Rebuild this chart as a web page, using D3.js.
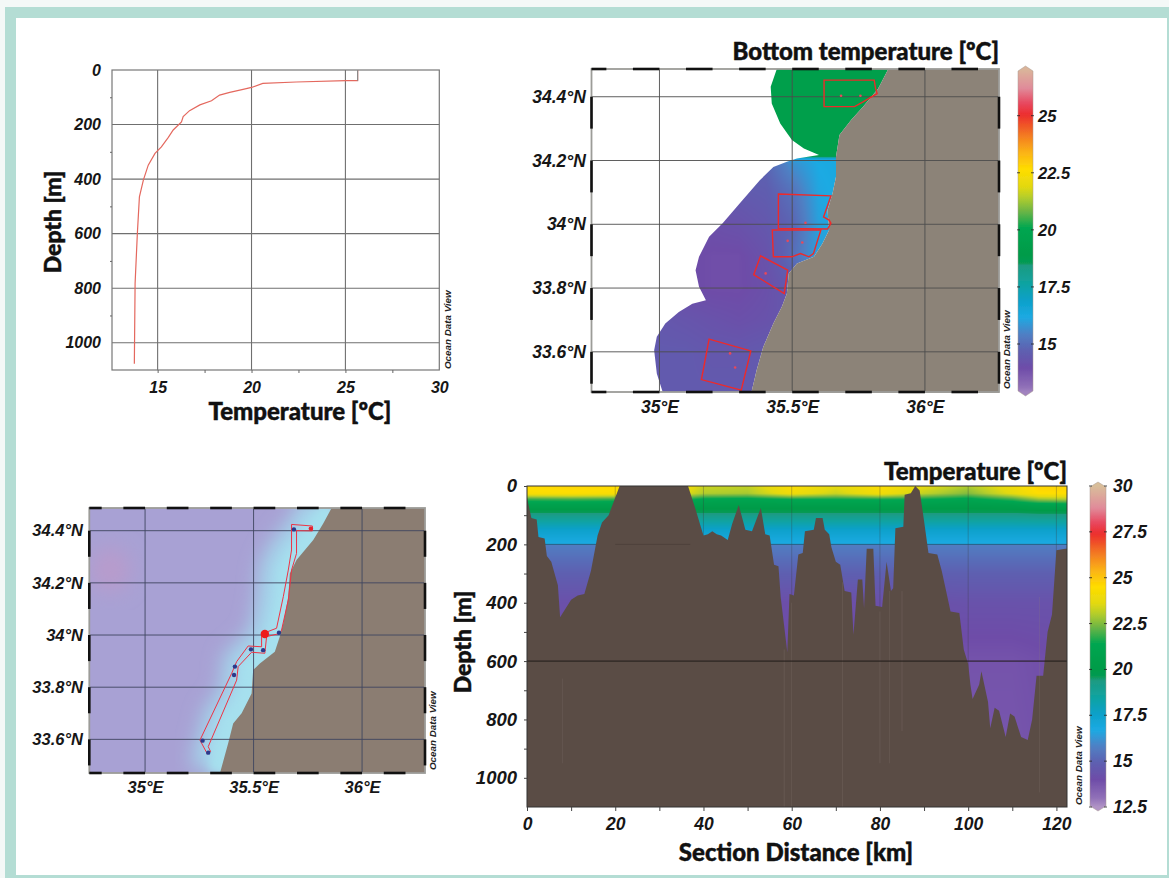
<!DOCTYPE html>
<html><head><meta charset="utf-8">
<script src="https://cdn.jsdelivr.net/npm/d3@7"></script>
<style>
html,body{margin:0;padding:0;background:#fff;overflow:hidden}
svg{display:block}
.tick-l text,.lab{font-family:"Liberation Sans",Arial,sans-serif;font-weight:700;font-style:italic;font-size:16px;fill:#161616}
.title{font-family:Lato,sans-serif;font-weight:900;fill:#111;stroke:#111;stroke-width:.45px}
.odv{font-family:"Liberation Sans",Arial,sans-serif;font-weight:700;font-style:italic;font-size:9.8px;fill:#222}
</style></head><body>
<svg id="c" width="1169" height="878" xmlns="http://www.w3.org/2000/svg"></svg>
<script>
// ---------- profile (panel A)
const profileTemp =[25.65,25.65,25.03,22.38,20.6,20,19.55,18.84,18.3,17.87,17.25,16.7,16.36,16.27,15.83,15.57,15.2,14.86,14.5,14.24,14.03,13.92,13.8,13.76];
const profileDepth=[0,39,39,44,49,64,71,82,92,113,128,149,171,190,220,247,282,306,349,404,465,600,783,1077];
const profileTempTicks=[15,20,25,30];
const depthTicks=[0,200,400,600,800,1000];
// ---------- colour bar, section-scale values
const barTemps =[12.4,13,14,14.9,15.8,16.7,17.6,18.5,19.45,19.55,20,21.4,22.3,23.05,23.6,24.5,25.4,26.3,27.4,28,28.8,30];
const barColors=["#b79bc8","#9070b8","#6e4ca8","#5e5fb0","#4f80c4","#1caae3","#0ba0c8","#10a3a0","#1d9a80","#079a55","#009b48","#00a651","#6db545","#b6ce2a","#e3d90f","#ffdd00","#fbb316","#f37b22","#ec2d2e","#e8485f","#e08b9a","#d9be9a"];
// ---------- bottom temperature map (panel B)
const coastB=[[35.862,34.487],[35.824,34.426],[35.767,34.369],[35.722,34.327],[35.678,34.280],[35.665,34.212],[35.665,34.149],[35.652,34.097],[35.633,34.044],[35.639,33.982],[35.614,33.940],[35.582,33.898],[35.518,33.877],[35.487,33.846],[35.480,33.783],[35.461,33.741],[35.429,33.689],[35.391,33.615],[35.366,33.542],[35.346,33.472]];
const dataEdge=[[35.442,34.487],[35.419,34.431],[35.423,34.379],[35.455,34.316],[35.499,34.264],[35.544,34.238],[35.601,34.217],[35.518,34.206],[35.480,34.196],[35.429,34.180],[35.378,34.138],[35.302,34.065],[35.238,34.003],[35.187,33.961],[35.149,33.898],[35.136,33.856],[35.149,33.804],[35.175,33.762],[35.124,33.751],[35.073,33.725],[35.022,33.689],[34.990,33.647],[34.980,33.605],[34.990,33.532],[35.013,33.472]];
const fieldLons=[35,35.1,35.2,35.3,35.4,35.5,35.6,35.7];
const fieldLats=[33.45,33.6,33.7,33.8,33.9,34.0,34.1,34.19,34.205,34.215,34.5];
const fieldTemp=[
[14.5,14.5,14.5,14.5,14.5,14.5,14.5,14.5],
[14.5,14.5,14.4,14.4,14.5,14.6,14.6,14.6],
[14.4,14.3,14.2,14.1,14.2,14.4,14.6,14.6],
[14.2,14.0,13.9,13.9,14.1,14.5,14.6,14.6],
[14.1,14.0,13.9,13.9,14.2,15.0,16.0,16.2],
[14.3,14.2,14.1,14.2,14.4,14.8,16.0,16.3],
[14.5,14.5,14.5,14.5,14.6,15.1,16.1,16.3],
[14.8,14.8,14.8,14.8,14.8,15.7,16.2,16.3],
[14.9,14.9,14.9,14.9,15.1,16.0,16.3,16.3],
[19.3,19.3,19.3,19.3,19.3,19.3,19.3,19.3],
[19.3,19.3,19.3,19.3,19.3,19.3,19.3,19.3]];
const boxesB=[
[[35.620,34.452],[35.809,34.452],[35.814,34.426],[35.820,34.410],[35.805,34.403],[35.767,34.384],[35.735,34.369],[35.620,34.369]],
[[35.448,34.095],[35.646,34.089],[35.618,34.023],[35.639,34.013],[35.646,34.003],[35.633,33.985],[35.448,33.987]],
[[35.425,33.982],[35.608,33.982],[35.580,33.908],[35.563,33.898],[35.531,33.908],[35.499,33.898],[35.429,33.898]],
[[35.381,33.901],[35.483,33.856],[35.470,33.783],[35.355,33.842]],
[[35.187,33.640],[35.344,33.603],[35.308,33.480],[35.158,33.513]]];
const stationsB=[[35.684,34.403],[35.757,34.403],[35.550,34.005],[35.483,33.948],[35.538,33.943],[35.400,33.846],[35.266,33.595],[35.285,33.551]];
const lonTicks=[35,35.5,36], latTicks=[33.6,33.8,34,34.2,34.4];
const bottomBarTicks=[15,17.5,20,22.5,25];
// ---------- station map (panel C)
const coastC=[[35.859,34.486],[35.821,34.428],[35.775,34.364],[35.698,34.288],[35.667,34.236],[35.660,34.147],[35.637,34.045],[35.621,33.994],[35.598,33.936],[35.529,33.891],[35.498,33.866],[35.491,33.776],[35.445,33.700],[35.406,33.661],[35.383,33.585],[35.345,33.470]];
const trackC=[[35.675,34.424],[35.771,34.418],[35.771,34.399],[35.698,34.400],[35.698,34.313],[35.675,34.249],[35.660,34.134],[35.629,34.019],[35.621,34.006],[35.560,33.994],[35.552,33.930],[35.491,33.934],[35.429,33.879],[35.422,33.827],[35.291,33.572],[35.302,33.553],[35.287,33.544],[35.253,33.597],[35.399,33.853],[35.422,33.898],[35.475,33.958],[35.537,33.955],[35.537,34.004],[35.606,34.026],[35.637,34.147],[35.660,34.249],[35.675,34.326]];
const stationsC=[[35.686,34.405],[35.617,34.009],[35.544,33.942],[35.488,33.945],[35.414,33.879],[35.410,33.847],[35.265,33.595],[35.291,33.549]];
const stationEnd=[35.764,34.408], stationNow=[35.552,34.004];
const warmPatch=[34.84,34.25];
// ---------- section (panel D)
const sectionKm =[0,1,2.2,2.6,4,4.5,5.5,7,7.5,10,11.5,13,14.5,16,17,18.5,20,21,36.5,38,40,41,42,43,44,45.5,46.5,48,49.5,51,53,54,55,56,57,57.5,59,59.5,60.5,61.5,62.5,63,65,65.5,67,67.5,68.5,69,70,71,72,73.5,74,75,76,76.4,77,78.5,79,80.5,81.5,82.5,83,83.5,85.3,85.6,87,88,89,90,91,93,94,95,96,98,99,100,100.5,101,102.5,103,104.5,105,106,107,108.5,109.5,110.5,112,113.5,114.5,115.5,117,118,119,120,122,122.4];
const sectionBed=[40,110,115,175,180,240,260,340,450,390,375,370,290,170,125,100,40,0,0,70,170,165,155,165,170,185,130,65,150,155,75,165,170,270,275,380,570,370,375,235,230,155,150,110,110,150,165,210,260,270,360,365,510,320,320,420,215,215,410,415,260,360,350,145,140,30,25,0,15,120,230,235,290,360,430,435,560,610,680,730,680,635,740,830,760,770,860,780,790,860,870,800,650,650,500,440,220,215,215];
const gridKm=[0,10,20,36,40,50,60,70,80,90,100,110,116,122.4];
const gridDepth=[0,25,45,65,90,105,150,199,202,300,400,600,1100];
const gridTemp=[
[24.6,24.7,24.6,24.0,23.3,23.2,24.4,23.7,24.4,23.7,23.0,24.0,24.7,24.7],
[24.3,24.4,24.3,23.6,23.0,22.9,24.0,23.3,24.1,23.2,22.5,23.7,24.5,24.5],
[21.9,22.0,21.9,21.7,21.3,21.2,21.5,21.5,21.6,21.5,21.2,21.9,22.8,23.0],
[20.7,20.7,20.7,20.6,20.5,20.4,20.5,20.5,20.6,20.5,20.4,20.6,20.9,21.0],
[19.6,19.6,19.6,19.6,19.6,19.6,19.6,19.6,19.6,19.6,19.6,19.6,19.7,19.7],
[19.0,19.0,19.0,19.0,19.0,19.0,19.0,19.0,19.0,19.0,19.0,19.0,19.1,19.1],
[17.5,17.5,17.5,17.5,17.5,17.5,17.5,17.5,17.5,17.5,17.5,17.5,17.5,17.5],
[16.7,16.7,16.7,16.7,16.7,16.7,16.7,16.7,16.7,16.7,16.7,16.7,16.7,16.7],
[15.7,15.7,15.7,15.7,15.7,15.7,15.7,15.7,15.7,15.7,15.7,15.7,15.7,15.7],
[14.9,14.9,14.9,14.9,14.9,14.9,14.9,14.9,14.9,14.9,14.9,14.9,14.9,14.9],
[14.2,14.2,14.2,14.2,14.2,14.2,14.1,14.1,14.2,14.2,14.3,14.3,14.3,14.3],
[14.0,14.0,14.0,14.0,14.0,14.0,14.0,14.0,14.0,13.9,13.8,13.8,13.9,14.0],
[13.8,13.8,13.8,13.8,13.8,13.8,13.8,13.8,13.8,13.8,13.7,13.7,13.8,13.8]];
const seamKm=[8,58.3,60,71.5,80,82.2,85,116.2];
const seamTop=[660,560,400,330,430,360,360,380];
const seamBottom=[950,1100,1100,1100,950,950,840,1050];
const distTicks=[0,20,40,60,80,100,120];
const sectionBarTicks=[12.5,15,17.5,20,22.5,25,27.5,30];

// ---------- helpers
const svg=d3.select("#c");
const defs=svg.append("defs");
function blur(id,sd){defs.append("filter").attr("id",id).attr("x","-40%").attr("y","-40%").attr("width","180%").attr("height","180%").append("feGaussianBlur").attr("stdDeviation",sd);}
blur("soft",0.7);blur("mid",4);blur("wide",10);
const sectionColor=d3.scaleLinear().domain(barTemps).range(barColors).clamp(true);
const toSection=d3.scaleLinear().domain([12.7,27.2]).range([12.5,30]);
const bottomColor=t=>sectionColor(toSection(t));
function fmtPos(s){return d=>(+d.toFixed(1))+"°"+s;}
function bilinear(xs,ys,tab,x,y){
  const ix=d3.bisectRight(xs,x)-1,iy=d3.bisectRight(ys,y)-1;
  const i0=Math.max(0,Math.min(xs.length-2,ix)),j0=Math.max(0,Math.min(ys.length-2,iy));
  const u=Math.max(0,Math.min(1,(x-xs[i0])/(xs[i0+1]-xs[i0]))),v=Math.max(0,Math.min(1,(y-ys[j0])/(ys[j0+1]-ys[j0])));
  return (1-v)*((1-u)*tab[j0][i0]+u*tab[j0][i0+1])+v*((1-u)*tab[j0+1][i0]+u*tab[j0+1][i0+1]);
}
function raster(g,x,y,fn,clip){
  const [x0,x1]=x.range(),[y0,y1]=y.range();
  const w=Math.ceil(x1-x0),h=Math.ceil(y1-y0);
  const cv=document.createElement("canvas");cv.width=w;cv.height=h;
  const ctx=cv.getContext("2d"),img=ctx.createImageData(w,h);
  for(let j=0;j<h;j++)for(let i=0;i<w;i++){
    const c=d3.rgb(fn(x.invert(x0+i+.5),y.invert(y0+j+.5))),k=(j*w+i)*4;
    img.data[k]=c.r;img.data[k+1]=c.g;img.data[k+2]=c.b;img.data[k+3]=255;
  }
  ctx.putImageData(img,0,0);
  const im=g.append("image").attr("x",x0).attr("y",y0).attr("width",w).attr("height",h).attr("href",cv.toDataURL());
  if(clip)im.attr("clip-path","url(#"+clip+")");
}
function axisText(sel,size){sel.select(".domain").remove();sel.attr("class","tick-l").attr("font-family",null).attr("font-size",null);sel.selectAll("text").style("font-size",(size||16)+"px");}
function gridLines(g,x,y,xs,ys,color,w){
  g.selectAll(null).data(xs).join("line").attr("x1",d=>x(d)).attr("x2",d=>x(d)).attr("y1",y.range()[0]).attr("y2",y.range()[1]).attr("stroke",color).attr("stroke-width",w);
  g.selectAll(null).data(ys).join("line").attr("y1",d=>y(d)).attr("y2",d=>y(d)).attr("x1",x.range()[0]).attr("x2",x.range()[1]).attr("stroke",color).attr("stroke-width",w);
}
function mapFrame(g,x,y){
  const [x0,x1]=x.range(),[y0,y1]=y.range();
  g.append("rect").attr("x",x0).attr("y",y0).attr("width",x1-x0).attr("height",y1-y0).attr("fill","none").attr("stroke","#9c9c98").attr("stroke-width",1.8);
  const lons=d3.range(0,16).map(i=>+(34.7+i*0.2).toFixed(1)).filter(d=>d<x.domain()[1]);
  const lats=[34.3,34.1,33.9,33.7,33.5];
  [y0,y1].forEach(yy=>g.selectAll(null).data(lons).join("line")
    .attr("x1",d=>Math.max(x0,x(d))).attr("x2",d=>Math.min(x1,x(d+0.1))).attr("y1",yy).attr("y2",yy).attr("stroke","#111").attr("stroke-width",2.6));
  [x0,x1].forEach(xx=>g.selectAll(null).data(lats).join("line")
    .attr("y1",d=>y(d+0.1)).attr("y2",d=>Math.min(y1,y(d))).attr("x1",xx).attr("x2",xx).attr("stroke","#111").attr("stroke-width",2.6));
}
function mapAxes(g,x,y,labelX,labelY,size){
  g.append("g").attr("transform",`translate(${labelX},0)`).call(d3.axisLeft(y).tickValues(latTicks).tickSize(0).tickPadding(0).tickFormat(fmtPos("N"))).call(axisText,size);
  g.append("g").attr("transform",`translate(0,${labelY})`).call(d3.axisBottom(x).tickValues(lonTicks).tickSize(0).tickPadding(0).tickFormat(fmtPos("E"))).call(axisText,size);
}
function odv(g,xx,yy){g.append("text").attr("class","odv").attr("transform",`translate(${xx},${yy}) rotate(-90)`).text("Ocean Data View");}
function title(g,xx,yy,t,anchor,rot,size){
  g.append("text").attr("class","title").attr("text-anchor",anchor||"middle").attr("dominant-baseline","central")
   .attr("transform",`translate(${xx},${yy})`+(rot?` rotate(${rot})`:"")).style("font-size",(size||24)+"px").text(t);
}
function colorBar(g,id,x0,x1,scaleY,low,high,ticks,colorOf,labelX,size){
  const yTop=scaleY(high),yBot=scaleY(low),xm=(x0+x1)/2;
  const grad=defs.append("linearGradient").attr("id",id).attr("gradientUnits","userSpaceOnUse").attr("x1",0).attr("x2",0).attr("y1",yBot).attr("y2",yTop);
  d3.range(0,1.0001,1/140).forEach(f=>{const t=low+f*(high-low);grad.append("stop").attr("offset",f).attr("stop-color",colorOf(t));});
  g.append("path").attr("d",`M${xm},${yTop-4}L${x1},${yTop+1}L${x1},${yBot-1}L${xm},${yBot+4}L${x0},${yBot-1}L${x0},${yTop+1}Z`)
   .attr("fill",`url(#${id})`).attr("stroke","#a89a90").attr("stroke-width",.5).attr("filter","url(#soft)");
  g.selectAll(null).data(ticks).join("line").attr("x1",x0-1).attr("x2",x1+1).attr("y1",d=>scaleY(d)).attr("y2",d=>scaleY(d)).attr("stroke","#222").attr("stroke-width",.8).attr("stroke-dasharray",`3 ${x1-x0-4} 3`);
  g.selectAll(null).data(ticks).join("text").attr("class","lab").attr("x",labelX).attr("y",d=>scaleY(d)).attr("dominant-baseline","central").style("font-size",size+"px").text(d=>d);
}

// ---------- page frame
svg.append("rect").attr("width",1169).attr("height",878).attr("fill","#b4ddd4");
svg.append("rect").attr("x",0).attr("y",0).attr("width",1169).attr("height",7).attr("fill","#f4f8f7");
svg.append("rect").attr("x",0).attr("y",0).attr("width",5).attr("height",878).attr("fill","#f4f8f7");
svg.append("rect").attr("x",16).attr("y",18).attr("width",1151).attr("height",857).attr("fill","#fff");

// ---------- panel A
{
  const g=svg.append("g");
  const x=d3.scaleLinear().domain([12.57,30]).range([112,439.3]);
  const y=d3.scaleLinear().domain([0,1100]).range([70,370]);
  gridLines(g,x,y,profileTempTicks.slice(0,3),depthTicks.slice(1),"#6f6f6f",1.1);
  g.append("rect").attr("x",112).attr("y",70).attr("width",327.3).attr("height",300).attr("fill","none").attr("stroke","#777").attr("stroke-width",1.2);
  g.append("g").attr("transform","translate(112,0)").call(d3.axisLeft(y).tickValues(d3.range(100,1100,200)).tickSize(2).tickFormat("")).call(s=>s.select(".domain").remove()).selectAll("line").attr("stroke","#666");
  g.append("g").attr("transform","translate(0,370)").call(d3.axisBottom(x).tickValues([15,17.5,20,22.5,25,27.5]).tickSize(3).tickFormat("")).call(s=>s.select(".domain").remove()).selectAll("line").attr("stroke","#666");
  g.append("g").attr("transform","translate(101,0)").call(d3.axisLeft(y).tickValues(depthTicks).tickSize(0).tickPadding(0).tickFormat(d=>d)).call(axisText,16);
  g.append("g").attr("transform","translate(0,382)").call(d3.axisBottom(x).tickValues(profileTempTicks).tickSize(0).tickPadding(0).tickFormat(d=>d)).call(axisText,16);
  const line=d3.line().x(d=>x(d)).y((d,i)=>y(profileDepth[i]));
  g.append("path").datum(profileTemp).attr("d",line).attr("fill","none").attr("stroke","#e4685e").attr("stroke-width",1.2);
  g.append("path").datum(profileTemp.slice(0,2)).attr("d",line).attr("fill","none").attr("stroke","#8a8a8a").attr("stroke-width",1.2);
  title(g,300,410,"Temperature [ºC]");
  title(g,52,222,"Depth [m]","middle",-90,23);
  odv(g,451,369);
}
// ---------- panel B
{
  const g=svg.append("g");
  const x=d3.scaleLinear().domain([34.744,36.279]).range([591.5,999]);
  const y=d3.scaleLinear().domain([34.487,33.474]).range([69,392]);
  const pt=d=>[x(d[0]),y(d[1])];
  const poly=a=>d3.line()(a.map(pt))+"Z";
  const landPts=coastB.concat([[36.279,33.472],[36.279,34.487]]);
  defs.append("clipPath").attr("id","wb").append("path").attr("d",poly(dataEdge.concat(coastB.slice().reverse())));
  raster(g,x,y,(lo,la)=>bottomColor(bilinear(fieldLons,fieldLats,fieldTemp,lo,la)),"wb");
  g.append("path").attr("d",poly(landPts)).attr("fill","#8c8378");
  gridLines(g,x,y,lonTicks,latTicks,"#4d4d4d",.9);
  g.selectAll(null).data(boxesB).join("path").attr("d",poly).attr("fill","none").attr("stroke","#ee2a2a").attr("stroke-width",1.4);
  g.selectAll(null).data(stationsB).join("circle").attr("cx",d=>x(d[0])).attr("cy",d=>y(d[1])).attr("r",1.3).attr("fill","#e8485a");
  mapFrame(g,x,y);
  mapAxes(g,x,y,586,401,17.5);
  title(g,999,50,"Bottom temperature [ºC]","end");
  odv(g,1010,389);
  const by=d3.scaleLinear().domain([15,25]).range([344,115.7]);
  colorBar(g,"barB",1018,1033,by,12.9,27.0,bottomBarTicks,bottomColor,1038,16.5);
}
// ---------- panel C
{
  const g=svg.append("g");
  const x=d3.scaleLinear().domain([34.743,36.29]).range([89.3,425]);
  const y=d3.scaleLinear().domain([34.487,33.471]).range([508,773]);
  const pt=d=>[x(d[0]),y(d[1])];
  const poly=a=>d3.line()(a.map(pt))+"Z";
  defs.append("clipPath").attr("id","pc").append("rect").attr("x",89.3).attr("y",508).attr("width",335.7).attr("height",265);
  const inner=g.append("g").attr("clip-path","url(#pc)");
  inner.append("rect").attr("x",89.3).attr("y",508).attr("width",335.7).attr("height",265).attr("fill","#a8a1d4");
  inner.append("ellipse").attr("cx",x(warmPatch[0])).attr("cy",y(warmPatch[1])).attr("rx",20).attr("ry",22).attr("fill","#b89bcc").attr("filter","url(#wide)");
  inner.append("path").attr("d",d3.line()(coastC.map(pt))).attr("fill","none").attr("stroke","#a4d8ec").attr("stroke-width",60).attr("filter","url(#wide)");
  inner.append("path").attr("d",d3.line()(coastC.map(pt))).attr("fill","none").attr("stroke","#a6e0ee").attr("stroke-width",24).attr("filter","url(#mid)");
  inner.append("path").attr("d",poly(coastC.concat([[36.29,33.47],[36.29,34.487]]))).attr("fill","#8b7d72");
  gridLines(g,x,y,lonTicks,latTicks,"#3f4560",.9);
  g.append("path").attr("d",poly(trackC)).attr("fill","none").attr("stroke","#ee3344").attr("stroke-width",1);
  g.selectAll(null).data(stationsC).join("circle").attr("cx",d=>x(d[0])).attr("cy",d=>y(d[1])).attr("r",2.2).attr("fill","#2a3a8c");
  g.append("circle").attr("cx",x(stationEnd[0])).attr("cy",y(stationEnd[1])).attr("r",2.2).attr("fill","#e5232e");
  g.append("circle").attr("cx",x(stationNow[0])).attr("cy",y(stationNow[1])).attr("r",4.2).attr("fill","#ee1c1c");
  mapFrame(g,x,y);
  mapAxes(g,x,y,83,781,16.5);
  odv(g,436,770);
}
// ---------- panel D
{
  const g=svg.append("g");
  const x=d3.scaleLinear().domain([0,122.4]).range([527,1067]);
  const y=d3.scaleLinear().domain([0,1100]).range([486,807]);
  raster(g,x,y,(km,d)=>sectionColor(bilinear(gridKm,gridDepth,gridTemp,km,d)));
  gridLines(g,x,y,[20,40,60,80,100,120],[],"#3a3a3a",.3);
  g.append("line").attr("x1",527).attr("x2",1067).attr("y1",y(200)).attr("y2",y(200)).attr("stroke","#27506f").attr("stroke-width",.8);
  const area=d3.area().x(d=>x(d)).y0(807).y1((d,i)=>y(sectionBed[i]));
  g.append("path").datum(sectionKm).attr("d",area).attr("fill","#5a4c45");
  g.append("line").attr("x1",x(20)).attr("x2",x(37)).attr("y1",y(200)).attr("y2",y(200)).attr("stroke","#3f342f").attr("stroke-width",1).attr("opacity",.45);
  g.selectAll(null).data(seamKm).join("line").attr("x1",d=>x(d)).attr("x2",d=>x(d)).attr("y1",(d,i)=>y(seamTop[i])).attr("y2",(d,i)=>y(seamBottom[i])).attr("stroke","#8c7f78").attr("stroke-width",.5).attr("opacity",.45);
  g.append("line").attr("x1",x(36)).attr("x2",x(110)).attr("y1",y(1000)).attr("y2",y(1000)).attr("stroke","#453a34").attr("stroke-width",4).attr("opacity",.45).attr("filter","url(#soft)");
  g.append("line").attr("x1",527).attr("x2",1067).attr("y1",y(600)).attr("y2",y(600)).attr("stroke","#1f1a18").attr("stroke-width",1);
  g.append("rect").attr("x",527).attr("y",486).attr("width",540).attr("height",321).attr("fill","none").attr("stroke","#333").attr("stroke-width",1);
  g.append("g").attr("transform","translate(0,807)").call(d3.axisBottom(x).tickValues(d3.range(0,121,10)).tickSize(4).tickFormat("")).call(s=>s.select(".domain").remove()).selectAll("line").attr("stroke","#444");
  g.append("g").attr("transform","translate(527,0)").call(d3.axisLeft(y).tickValues(d3.range(0,1100,100)).tickSize(3).tickFormat("")).call(s=>s.select(".domain").remove()).selectAll("line").attr("stroke","#444");
  g.append("g").attr("transform","translate(517,0)").call(d3.axisLeft(y).tickValues(depthTicks).tickSize(0).tickPadding(0).tickFormat(d=>d)).call(axisText,18.5);
  g.append("g").attr("transform","translate(0,818)").call(d3.axisBottom(x).tickValues(distTicks).tickSize(0).tickPadding(0).tickFormat(d=>d)).call(axisText,17.5);
  title(g,1067,470,"Temperature [ºC]","end");
  title(g,796,851,"Section Distance [km]");
  title(g,462,642,"Depth [m]","middle",-90,23);
  odv(g,1082,805);
  const by=d3.scaleLinear().domain([12.5,30]).range([807,486]);
  colorBar(g,"barD",1090,1106,by,12.5,30,sectionBarTicks,sectionColor,1113,17.5);
}
</script>
</body></html>
